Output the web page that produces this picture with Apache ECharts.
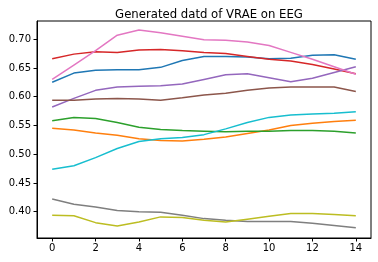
<!DOCTYPE html>
<html><head><meta charset="utf-8">
<script src="https://cdn.jsdelivr.net/npm/echarts@6/dist/echarts.min.js"></script>
<style>html,body{margin:0;padding:0;background:#fff}#c{width:378px;height:262px}</style>
</head><body><div id="c"></div>
<script>
const title = "Generated datd of VRAE on EEG";
const xs = [0,1,2,3,4,5,6,7,8,9,10,11,12,13,14];
const xTicks = [0,2,4,6,8,10,12,14];
const yTicks = [0.40,0.45,0.50,0.55,0.60,0.65,0.70];
const blue   = [0.625,0.641,0.646,0.647,0.647,0.651,0.663,0.670,0.670,0.669,0.666,0.667,0.672,0.673,0.665];
const orange = [0.545,0.542,0.537,0.533,0.527,0.524,0.523,0.526,0.530,0.536,0.542,0.550,0.554,0.557,0.559];
const green  = [0.558,0.564,0.562,0.555,0.547,0.543,0.541,0.540,0.539,0.540,0.540,0.541,0.541,0.540,0.537];
const red    = [0.666,0.674,0.678,0.677,0.681,0.682,0.680,0.677,0.675,0.670,0.665,0.662,0.656,0.648,0.640];
const purple = [0.582,0.597,0.611,0.617,0.618,0.619,0.622,0.630,0.638,0.640,0.633,0.626,0.632,0.642,0.652];
const brown  = [0.594,0.594,0.596,0.597,0.596,0.594,0.598,0.603,0.606,0.611,0.615,0.617,0.617,0.617,0.609];
const pink   = [0.630,0.655,0.680,0.707,0.716,0.711,0.705,0.699,0.698,0.695,0.689,0.677,0.665,0.652,0.639];
const gray   = [0.422,0.413,0.408,0.402,0.400,0.399,0.394,0.388,0.385,0.383,0.383,0.383,0.380,0.376,0.372];
const olive  = [0.394,0.393,0.381,0.375,0.382,0.391,0.390,0.385,0.382,0.387,0.392,0.397,0.397,0.395,0.393];
const cyan   = [0.474,0.480,0.494,0.510,0.522,0.527,0.529,0.534,0.544,0.555,0.564,0.568,0.570,0.571,0.574];

const seriesList = [
  [blue,'#1f77b4'],[orange,'#ff7f0e'],[green,'#2ca02c'],[red,'#d62728'],[purple,'#9467bd'],
  [brown,'#8c564b'],[pink,'#e377c2'],[gray,'#7f7f7f'],[olive,'#bcbd22'],[cyan,'#17becf']
];
const chart = echarts.init(document.getElementById('c'), null, {renderer:'canvas'});
const axisCommon = {
  axisLine:{show:true,onZero:false,lineStyle:{color:'#000',width:1}},
  splitLine:{show:false},
  axisTick:{show:true,inside:false,length:3.5,lineStyle:{color:'#000',width:1}},
  axisLabel:{color:'#000',fontSize:10,fontFamily:'DejaVu Sans'}
};
chart.setOption({
  animation:false,
  backgroundColor:'#fff',
  title:{text:title,left:204,top:4,textAlign:'center',
    textStyle:{fontSize:11.7,fontWeight:'normal',color:'#000',fontFamily:'DejaVu Sans'}},
  grid:{left:37,right:7,top:21,bottom:24,show:true,borderColor:'#000',borderWidth:1,containLabel:false},
  xAxis:Object.assign({},axisCommon,{type:'value',min:-0.7,max:14.7,
    axisTick:Object.assign({},axisCommon.axisTick,{customValues:xTicks}),
    axisLabel:Object.assign({},axisCommon.axisLabel,{customValues:xTicks,margin:5})}),
  yAxis:Object.assign({},axisCommon,{type:'value',min:0.3543,max:0.7316,
    axisTick:Object.assign({},axisCommon.axisTick,{customValues:yTicks}),
    axisLabel:Object.assign({},axisCommon.axisLabel,{customValues:yTicks,margin:6,
      formatter:v=>v.toFixed(2)})}),
  series:seriesList.map(([d,c])=>({
    type:'line',data:xs.map((x,i)=>[x,d[i]]),showSymbol:false,symbol:'none',
    lineStyle:{color:c,width:1.5},itemStyle:{color:c},silent:true
  }))
});
</script></body></html>
